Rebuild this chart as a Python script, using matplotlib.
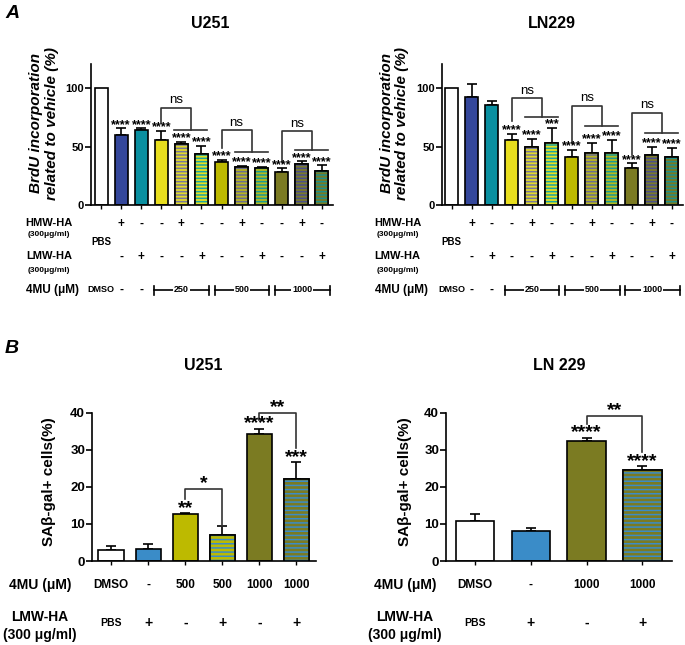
import numpy as np
import matplotlib
matplotlib.use('Agg')
import matplotlib.pyplot as plt
from matplotlib.transforms import blended_transform_factory

plt.rcParams['font.family'] = ['Liberation Sans', 'DejaVu Sans']
plt.rcParams['font.weight'] = 'bold'
plt.rcParams['hatch.linewidth'] = 1.1

W, H = 685, 645

# ---------------- data: panel A (BrdU incorporation, % of vehicle)
a_u251_vals = [100, 59.7, 64.4, 55.7, 52.3, 43.7, 36.8, 32.5, 31.6, 28.4, 35.6, 29.6]
a_u251_errs = [0, 6.3, 1.4, 7.8, 2.0, 7.2, 2.0, 0.9, 1.4, 3.2, 1.8, 4.6]
a_u251_stars = [''] + ['****'] * 11
a_u251_ns_top = [83.4, 64.1, 63.2]
a_u251_ns_left = [70.4, 48.9, 37.3]
a_u251_ns_right = [64.7, 45.9, 46.8]

a_ln229_vals = [100, 92.3, 86.0, 56.2, 49.6, 53.6, 41.6, 44.4, 44.4, 31.8, 42.7, 41.6]
a_ln229_errs = [0, 11.4, 3.4, 4.8, 7.1, 12.9, 6.0, 8.9, 11.4, 4.0, 7.5, 7.4]
a_ln229_stars = ['', '', '', '****', '****', '***', '****', '****', '****', '****', '****', '****']
a_ln229_ns_top = [91.4, 85.1, 78.8]
a_ln229_ns_left = [72.2, 53.6, 42.7]
a_ln229_ns_right = [75.9, 67.4, 61.6]

a_hmw = ['', '+', '-', '-', '+', '-', '-', '+', '-', '-', '+', '-']
a_lmw = ['', '-', '+', '-', '-', '+', '-', '-', '+', '-', '-', '+']
a_4mu_first = ['DMSO', '-', '-']
a_4mu_groups = ['250', '500', '1000']

a_faces = ['#FFFFFF', '#34479B', '#0A8FA0', '#E8DE1E', '#E2DA2A', '#E8E020',
           '#BDB900', '#B8B420', '#B5BA1E', '#7B7A22', '#7A7A2A', '#7A7A22']
a_stripes = [None, None, None, None, '#77789A', '#1BA5A0',
             None, '#6A6E8E', '#1A9A92', None, '#4A4E8A', '#1E8E8A']

# ---------------- data: panel B (SA-beta-gal positive cells, %)
b_u251_vals = [3.0, 3.2, 12.6, 7.0, 34.2, 22.1]
b_u251_errs = [1.05, 1.4, 0.3, 2.3, 1.4, 4.5]
b_u251_stars = ['', '', '**', '', '****', '***']
b_u251_4mu = ['DMSO', '-', '500', '500', '1000', '1000']
b_u251_lmw = ['PBS', '+', '-', '+', '-', '+']
b_u251_faces = ['#FFFFFF', '#3A8CC8', '#BDBA00', '#BDBA00', '#7B7B22', '#7B7B22']
b_u251_stripes = [None, None, None, '#3A8CC8', None, '#3A8CC8']

b_ln229_vals = [10.9, 8.0, 32.3, 24.5]
b_ln229_errs = [1.7, 0.9, 0.9, 1.0]
b_ln229_stars = ['', '', '****', '****']
b_ln229_4mu = ['DMSO', '-', '1000', '1000']
b_ln229_lmw = ['PBS', '+', '-', '+']
b_ln229_faces = ['#FFFFFF', '#3A8CC8', '#7B7B22', '#7B7B22']
b_ln229_stripes = [None, None, None, '#3A8CC8']

fig = plt.figure(figsize=(W / 100, H / 100), dpi=100)


def fy(py):
    return 1 - py / H


def make_axes(x0, x1, ytop, ybot):
    ax = fig.add_axes([x0 / W, 1 - ybot / H, (x1 - x0) / W, (ybot - ytop) / H])
    for s in ['top', 'right']:
        ax.spines[s].set_visible(False)
    for s in ['left', 'bottom']:
        ax.spines[s].set_linewidth(1.2)
    return ax


def draw_bars(ax, vals, errs, faces, stripes, width, hatch):
    x = np.arange(len(vals))
    ax.bar(x, vals, width, color=faces, edgecolor='black', linewidth=1.2, zorder=2)
    for i in range(len(vals)):
        if stripes[i] is not None:
            ax.bar(x[i], vals[i], width, color=faces[i], edgecolor=stripes[i],
                   hatch=hatch, linewidth=0, zorder=3)
            ax.bar(x[i], vals[i], width, fill=False, edgecolor='black', linewidth=1.2, zorder=4)
    lo = np.zeros(len(vals))
    e = np.array(errs)
    m = e > 0
    ax.errorbar(x[m], np.array(vals)[m], yerr=[lo[m], e[m]], fmt='none', ecolor='black',
                elinewidth=1.2, capsize=3.5, capthick=1.2, zorder=1)
    return x


def draw_stars(ax, vals, errs, stars, size, dy):
    for i, s in enumerate(stars):
        if s:
            ax.annotate(s, (i, vals[i] + errs[i]), xytext=(0, dy), textcoords='offset points',
                        ha='center', va='baseline', fontsize=size, annotation_clip=False)


def panel_a(x0, x1, title, title_x, vals, errs, stars, ns_top, ns_left, ns_right, lab_x, ylab_x):
    ax = make_axes(x0, x1, 64, 205)
    draw_bars(ax, vals, errs, a_faces, a_stripes, 0.65, '-----')
    n = len(vals)
    ax.set_xlim(-0.5, n - 0.45)
    ax.set_ylim(0, 121)
    ax.set_yticks([0, 50, 100])
    ax.set_xticks(np.arange(n))
    ax.set_xticklabels([])
    ax.tick_params(axis='y', labelsize=8, width=1.2, length=4, pad=1)
    ax.tick_params(axis='x', width=1.0, length=3)
    draw_stars(ax, vals, errs, stars, 9, 0.3)

    # ns brackets
    for k in range(3):
        xl = 3 * k + 3
        a, b = 3 * k + 4, 3 * k + 5
        xr = (a + b) / 2
        ax.plot([xl, xl, xr, xr], [ns_left[k], ns_top[k], ns_top[k], ns_right[k]],
                color='#333333', lw=1.2, clip_on=False)
        ax.plot([a - 0.35, b + 0.3], [ns_right[k], ns_right[k]], color='#333333', lw=1.2,
                clip_on=False)
        ax.text((xl + xr) / 2, ns_top[k] + 1.5, 'ns', ha='center', va='bottom',
                fontsize=9.5, fontweight='normal')

    fig.text(title_x / W, fy(24), title, ha='center', va='center', fontsize=11.5)
    fig.text(ylab_x / W, fy(123), 'BrdU incorporation\nrelated to vehicle (%)', rotation=90,
             ha='center', va='center', fontsize=11, style='italic', linespacing=1.1)

    tr = blended_transform_factory(ax.transData, fig.transFigure)
    trl = blended_transform_factory(fig.transFigure, fig.transFigure)
    for i in range(n):
        ax.text(i, fy(224), a_hmw[i], transform=tr, ha='center', va='center', fontsize=8.5)
        ax.text(i, fy(257), a_lmw[i], transform=tr, ha='center', va='center', fontsize=8.5)
    ax.text(0, fy(242), 'PBS', transform=tr, ha='center', va='center', fontsize=7)
    for i, s in enumerate(a_4mu_first):
        ax.text(i, fy(290), s, transform=tr, ha='center', va='center',
                fontsize=6.5 if s == 'DMSO' else 8.5)
    for k, s in enumerate(a_4mu_groups):
        g0, g1 = 3 * k + 3 - 0.35, 3 * k + 5 + 0.38
        ax.plot([g0, g1], [fy(290), fy(290)], transform=tr, color='black', lw=1.2, clip_on=False)
        ax.plot([g0, g0], [fy(286), fy(294.5)], transform=tr, color='black', lw=1.2, clip_on=False)
        ax.plot([g1, g1], [fy(286), fy(294.5)], transform=tr, color='black', lw=1.2, clip_on=False)
        ax.text((g0 + g1) / 2, fy(290), s, transform=tr, ha='center', va='center', fontsize=6.5,
                bbox=dict(facecolor='white', edgecolor='none', pad=0.6))
    ax.text(lab_x / W, fy(223), 'HMW-HA', transform=trl, ha='center', va='center', fontsize=8)
    ax.text(lab_x / W, fy(234), '(300\u03bcg/ml)', transform=trl, ha='center', va='center',
            fontsize=6)
    ax.text(lab_x / W, fy(256), 'LMW-HA', transform=trl, ha='center', va='center', fontsize=8)
    ax.text(lab_x / W, fy(270), '(300\u03bcg/ml)', transform=trl, ha='center', va='center',
            fontsize=6)
    ax.text((lab_x + 4) / W, fy(290), '4MU (\u03bcM)', transform=trl, ha='center', va='center',
            fontsize=8.5)
    return ax


def panel_b(x0, x1, title, vals, errs, stars, faces, stripes, row_4mu, row_lmw, lab_x, ylab_x,
            title_x):
    ax = make_axes(x0, x1, 412.5, 561)
    draw_bars(ax, vals, errs, faces, stripes, 0.69, '----')
    n = len(vals)
    ax.set_xlim(-0.52, n - 0.47)
    ax.set_ylim(0, 40)
    ax.set_yticks([0, 10, 20, 30, 40])
    ax.set_xticks(np.arange(n))
    ax.set_xticklabels([])
    ax.tick_params(axis='y', labelsize=9.5, width=1.2, length=4, pad=1)
    ax.tick_params(axis='x', width=1.0, length=3)
    draw_stars(ax, vals, errs, stars, 14, 0.3)
    fig.text(title_x / W, fy(365), title, ha='center', va='center', fontsize=11.5)
    fig.text(ylab_x / W, fy(482), 'SA\u03b2-gal+ cells(%)', rotation=90, ha='center',
             va='center', fontsize=11)

    tr = blended_transform_factory(ax.transData, fig.transFigure)
    trl = blended_transform_factory(fig.transFigure, fig.transFigure)
    for i in range(n):
        ax.text(i, fy(585), row_4mu[i], transform=tr, ha='center', va='center', fontsize=8.5)
        ax.text(i, fy(623), row_lmw[i], transform=tr, ha='center', va='center',
                fontsize=7.5 if row_lmw[i] == 'PBS' else 10)
    ax.text(lab_x / W, fy(585), '4MU (\u03bcM)', transform=trl, ha='center', va='center',
            fontsize=10)
    ax.text(lab_x / W, fy(617), 'LMW-HA', transform=trl, ha='center', va='center', fontsize=10)
    ax.text(lab_x / W, fy(635), '(300 \u03bcg/ml)', transform=trl, ha='center', va='center',
            fontsize=10)
    return ax


def bracket(ax, xl, yl, yt, xr, yr, label, size):
    ax.plot([xl, xl, xr, xr], [yl, yt, yt, yr], color='#333333', lw=1.2, clip_on=False)
    ax.annotate(label, ((xl + xr) / 2, yt), xytext=(0, 0.3), textcoords='offset points',
                ha='center', va='baseline', fontsize=size, annotation_clip=False)


# ---------------- panel A
panel_a(91, 333, 'U251', 210, a_u251_vals, a_u251_errs, a_u251_stars,
        a_u251_ns_top, a_u251_ns_left, a_u251_ns_right, 49, 44)
panel_a(441.7, 683, 'LN229', 552, a_ln229_vals, a_ln229_errs, a_ln229_stars,
        a_ln229_ns_top, a_ln229_ns_left, a_ln229_ns_right, 397.5, 394.5)

# ---------------- panel B
axb1 = panel_b(92, 316, 'U251', b_u251_vals, b_u251_errs, b_u251_stars, b_u251_faces,
               b_u251_stripes, b_u251_4mu, b_u251_lmw, 40, 48.5, 203)
bracket(axb1, 2, 16.8, 19.5, 3, 9.5, '*', 14)
bracket(axb1, 4, 38.1, 39.9, 5, 30.5, '**', 14)

axb2 = panel_b(446, 672, 'LN 229', b_ln229_vals, b_ln229_errs, b_ln229_stars, b_ln229_faces,
               b_ln229_stripes, b_ln229_4mu, b_ln229_lmw, 405, 404.5, 559)
bracket(axb2, 2, 37.0, 39.1, 3, 29.3, '**', 14)

fig.text(5 / W, fy(14), 'A', fontsize=14, style='italic', ha='left', va='center')
fig.text(5 / W, fy(348), 'B', fontsize=14, style='italic', ha='left', va='center')

fig.savefig('out.png', dpi=100)
